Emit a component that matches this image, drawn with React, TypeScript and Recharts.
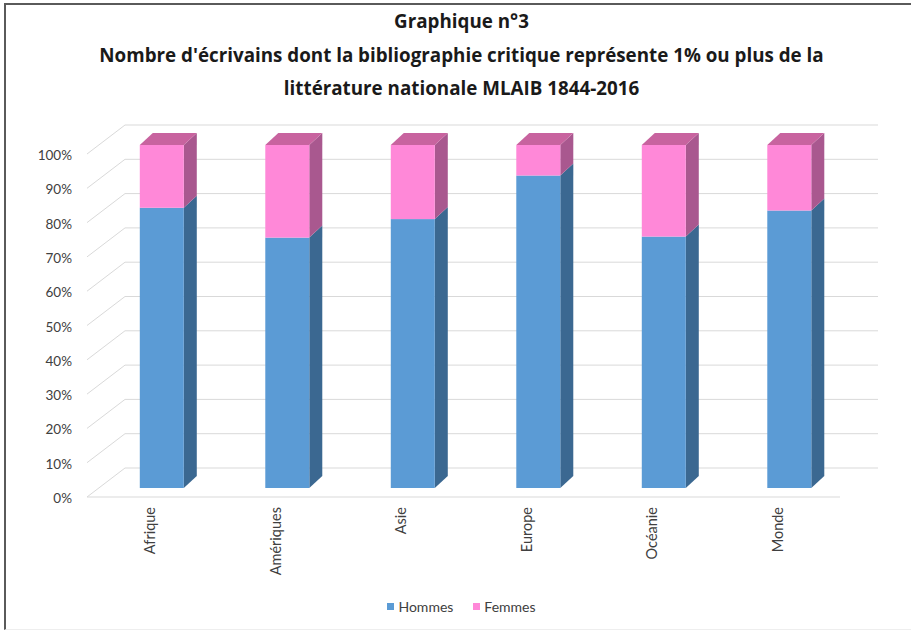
import { BarChart, Bar, XAxis, YAxis, CartesianGrid, Legend } from "recharts";

const regions = ["Afrique", "Amériques", "Asie", "Europe", "Océanie", "Monde"];
const hommes = [81.7, 73.0, 78.4, 91.1, 73.3, 80.9];
const femmes = [18.3, 27.0, 21.6, 8.9, 26.7, 19.1];
const yTicks = [0, 10, 20, 30, 40, 50, 60, 70, 80, 90, 100];

const data = regions.map((region, i) => ({ region, Hommes: hommes[i], Femmes: femmes[i] }));

// layout of the fake 3D box (back wall = recharts plot area)
const W = 911;
const H = 633;
const PLOT_LEFT = 125;
const PLOT_RIGHT = 878;
const PLOT_TOP = 125;
const PLOT_BOTTOM = 468;
const FLOOR_DX = 38;
const FLOOR_DY = 29;
const BAR_SHIFT_X = -26;
const BAR_SHIFT_Y = 20;
const BAR_DX = 13;
const BAR_DY = 12;

const FONT = "Lato, 'Open Sans', sans-serif";
const TITLE_FONT = "'Open Sans', Lato, sans-serif";
const GRID = "#d9d9d9";
const TEXT = "#404040";

const COLORS = {
  Hommes: { front: "#5b9bd5", side: "#3b6891", top: "#4a7fb0" },
  Femmes: { front: "#ff88d8", side: "#a9588f", top: "#c8639f" },
};

// eslint-disable-next-line @typescript-eslint/no-explicit-any
function Box3D(props: any) {
  const { x, y, width, height, colors, showTop } = props;
  if (!height || height <= 0) return null;
  const fx = x + BAR_SHIFT_X;
  const fy = y + BAR_SHIFT_Y;
  const w = width;
  const h = height;
  const side = `${fx + w},${fy} ${fx + w + BAR_DX},${fy - BAR_DY} ${fx + w + BAR_DX},${fy + h - BAR_DY} ${fx + w},${fy + h}`;
  const top = `${fx},${fy} ${fx + BAR_DX},${fy - BAR_DY} ${fx + w + BAR_DX},${fy - BAR_DY} ${fx + w},${fy}`;
  return (
    <g>
      <polygon points={side} fill={colors.side} />
      {showTop && <polygon points={top} fill={colors.top} />}
      <rect x={fx} y={fy} width={w} height={h} fill={colors.front} />
    </g>
  );
}

// eslint-disable-next-line @typescript-eslint/no-explicit-any
function YTick({ y, payload }: any) {
  const fy = y + FLOOR_DY;
  return (
    <g>
      <line x1={PLOT_LEFT - FLOOR_DX} y1={fy} x2={PLOT_LEFT} y2={y} stroke={GRID} />
      {payload.value === 0 && (
        <line x1={PLOT_LEFT - FLOOR_DX} y1={fy} x2={PLOT_RIGHT - FLOOR_DX} y2={fy} stroke={GRID} />
      )}
      <text
        x={72}
        y={fy + 1}
        textAnchor="end"
        dominantBaseline="central"
        fontFamily={FONT}
        fontSize={13.5}
        fill={TEXT}
      >
        {payload.value}%
      </text>
    </g>
  );
}

// eslint-disable-next-line @typescript-eslint/no-explicit-any
function XTick({ x, payload }: any) {
  return (
    <text
      transform={`translate(${x - FLOOR_DX}, ${PLOT_BOTTOM + FLOOR_DY + 10}) rotate(-90)`}
      textAnchor="end"
      dominantBaseline="central"
      fontFamily={FONT}
      fontSize={14.5}
      fill={TEXT}
    >
      {payload.value}
    </text>
  );
}

function LegendContent() {
  const items = [
    { name: "Hommes", color: COLORS.Hommes.front },
    { name: "Femmes", color: COLORS.Femmes.front },
  ];
  return (
    <div style={{ display: "flex", justifyContent: "center", gap: 20, fontFamily: FONT, fontSize: 14, color: TEXT }}>
      {items.map((it) => (
        <span key={it.name} style={{ display: "flex", alignItems: "center" }}>
          <span style={{ width: 7, height: 7, background: it.color, marginRight: 4, display: "inline-block" }} />
          {it.name}
        </span>
      ))}
    </div>
  );
}

export default function App() {
  return (
    <div style={{ position: "absolute", left: 0, top: 0, width: W, height: H, background: "#fff", overflow: "hidden" }}>
      <div
        style={{
          position: "absolute",
          left: 4,
          top: 3,
          width: W - 4,
          height: H - 6,
          borderLeft: "2px solid #5a5a5a",
          borderTop: "2px solid #5a5a5a",
          borderBottom: "1px solid #eeeeee",
          boxSizing: "border-box",
        }}
      />
      <div
        style={{
          position: "absolute",
          left: 6,
          top: 5,
          width: W,
          textAlign: "center",
          fontFamily: TITLE_FONT,
          fontWeight: 700,
          fontSize: 18.8,
          lineHeight: "33.5px",
          color: "#1a1a1a",
        }}
      >
        <div>Graphique n°3</div>
        <div>Nombre d'écrivains dont la bibliographie critique représente 1% ou plus de la</div>
        <div>littérature nationale MLAIB 1844-2016</div>
      </div>
      <BarChart
        width={W}
        height={H}
        data={data}
        barCategoryGap="32.5%"
        margin={{ top: PLOT_TOP, left: PLOT_LEFT - 60, right: W - PLOT_RIGHT, bottom: H - PLOT_BOTTOM - 60 }}
        style={{ position: "absolute", left: 0, top: 0 }}
      >
        <CartesianGrid vertical={false} stroke={GRID} />
        <XAxis dataKey="region" height={60} axisLine={false} tickLine={false} tick={<XTick />} interval={0} />
        <YAxis width={60} domain={[0, 100]} ticks={yTicks} axisLine={false} tickLine={false} tick={<YTick />} />
        <Legend
          layout="horizontal"
          verticalAlign="middle"
          align="center"
          content={<LegendContent />}
          wrapperStyle={{ top: 598, left: 6, width: W }}
        />
        <Bar
          dataKey="Hommes"
          stackId="a"
          isAnimationActive={false}
          fill={COLORS.Hommes.front}
          shape={(p: any) => <Box3D {...p} colors={COLORS.Hommes} showTop={false} />}
        />
        <Bar
          dataKey="Femmes"
          stackId="a"
          isAnimationActive={false}
          fill={COLORS.Femmes.front}
          shape={(p: any) => <Box3D {...p} colors={COLORS.Femmes} showTop />}
        />
      </BarChart>
    </div>
  );
}
